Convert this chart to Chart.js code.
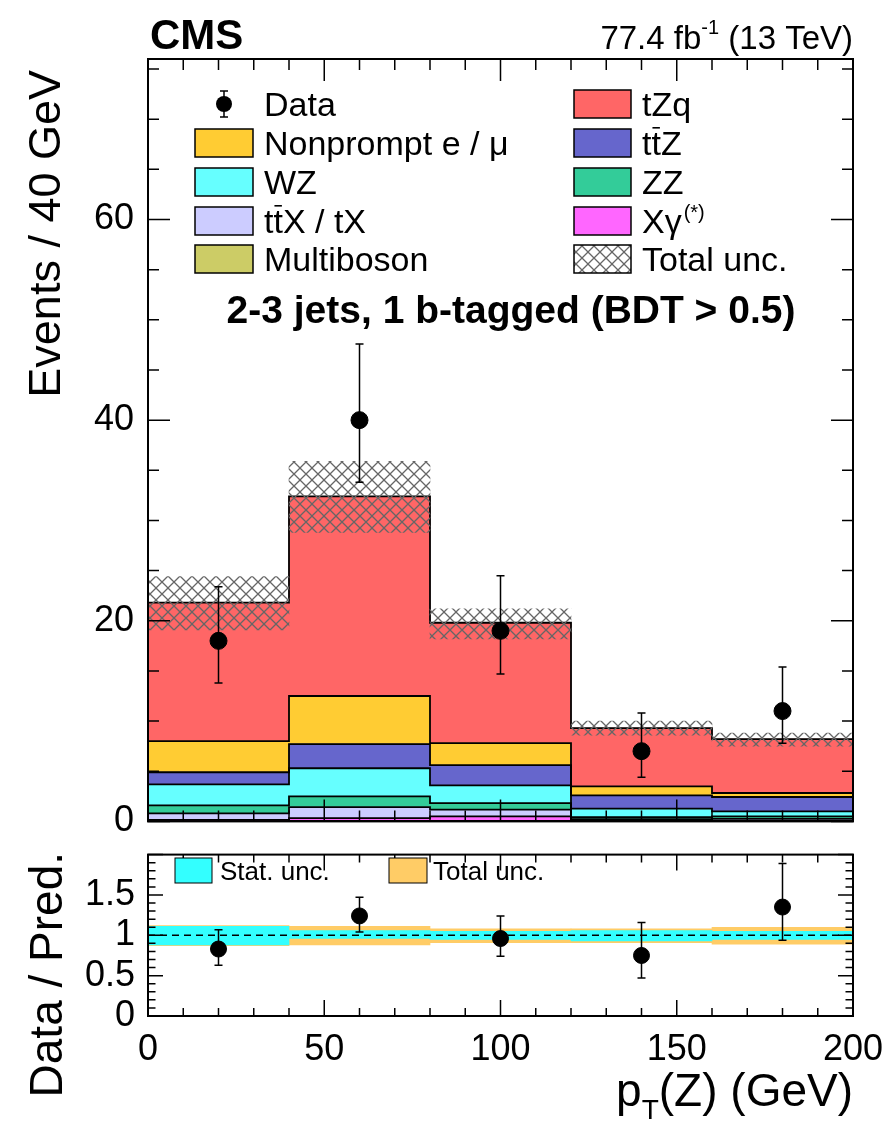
<!DOCTYPE html>
<html>
<head>
<meta charset="utf-8">
<script src="https://cdn.jsdelivr.net/npm/chart.js@4.4.1/dist/chart.umd.min.js"></script>
<style>
  html, body { margin: 0; padding: 0; background: #fff; }
  #wrap { position: relative; width: 894px; height: 1122px; }
  canvas { position: absolute; left: 0; }
  #mainChart { top: 0; }
  #ratioChart { top: 828px; }
</style>
</head>
<body>
<div id="wrap">
  <canvas id="mainChart" width="894" height="849"></canvas>
  <canvas id="ratioChart" width="894" height="294"></canvas>
</div>
<script>
// bins in pT(Z), GeV
const binEdges = [0, 40, 80, 120, 160, 200];
const binCenters = [20, 60, 100, 140, 180];

// stacked predictions, bottom to top (events / bin)
const multiboson = [0.03, 0.05, 0.05, 0.02, 0.02];
const xGamma     = [0.12, 0.28, 0.45, 0.04, 0.03];
const ttxTx      = [0.65, 1.10, 0.67, 0.16, 0.20];
const zz         = [0.80, 1.07, 0.66, 0.21, 0.25];
const wz         = [2.10, 2.80, 1.77, 0.84, 0.50];
const ttz        = [1.20, 2.40, 2.00, 1.33, 1.43];
const nonprompt  = [3.10, 4.80, 2.20, 0.90, 0.40];
const tzq        = [13.8, 19.9, 12.0, 5.80, 5.37];

// observed data
const dataCounts  = [18, 40, 19, 7, 11];
const dataErrUp   = [5.4, 7.6, 5.5, 3.8, 4.4];
const dataErrDown = [4.2, 6.2, 4.3, 2.6, 3.2];

// total uncertainty band on the prediction
const uncLow  = [19.1, 28.8, 18.2, 8.6, 7.5];
const uncHigh = [24.4, 35.9, 21.2, 10.0, 8.8];

// ratio panel
const ratioVals    = [0.83, 1.24, 0.96, 0.75, 1.35];
const ratioErrUp   = [0.24, 0.23, 0.28, 0.41, 0.54];
const ratioErrDown = [0.20, 0.20, 0.22, 0.28, 0.41];
const statLow  = [0.88, 0.96, 0.95, 0.93, 0.95];
const statHigh = [1.11, 1.06, 1.05, 1.06, 1.05];
const totLow   = [0.87, 0.88, 0.91, 0.91, 0.89];
const totHigh  = [1.12, 1.11, 1.08, 1.08, 1.10];

const FONT = '"Liberation Sans", Arial, Helvetica, sans-serif';
Chart.defaults.font.family = FONT;
Chart.defaults.color = '#000';

const colors = {
  tzq: '#ff6666', nonprompt: '#ffcc33', ttz: '#6666cc', wz: '#66ffff',
  zz: '#33cc99', ttx: '#ccccff', xgamma: '#ff66ff', multiboson: '#cccc66'
};

function makeHatch() {
  const c = document.createElement('canvas');
  c.width = 12; c.height = 12;
  const g = c.getContext('2d');
  g.strokeStyle = '#666';
  g.lineWidth = 1.3;
  g.beginPath();
  g.moveTo(0, 0); g.lineTo(12, 12);
  g.moveTo(12, 0); g.lineTo(0, 12);
  g.moveTo(-6, 6); g.lineTo(6, 18);
  g.moveTo(6, -6); g.lineTo(18, 6);
  g.stroke();
  return document.getElementById('mainChart').getContext('2d').createPattern(c, 'repeat');
}
const hatch = makeHatch();

const pts = arr => binCenters.map((x, i) => ({ x, y: arr[i] }));
const rangePts = (lo, hi) => binCenters.map((x, i) => ({ x, y: [lo[i], hi[i]] }));
const fullBin = { barPercentage: 1, categoryPercentage: 1, grouped: false, borderWidth: 0 };

// stacked histogram layers
const layers = [
  { label: 'Multiboson', values: multiboson, color: colors.multiboson },
  { label: 'Xγ', values: xGamma, color: colors.xgamma },
  { label: 'ttX / tX', values: ttxTx, color: colors.ttx },
  { label: 'ZZ', values: zz, color: colors.zz },
  { label: 'WZ', values: wz, color: colors.wz },
  { label: 'ttZ', values: ttz, color: colors.ttz },
  { label: 'Nonprompt', values: nonprompt, color: colors.nonprompt },
  { label: 'tZq', values: tzq, color: colors.tzq }
];

const mainDatasets = [];
let cum = binCenters.map(() => 0);
layers.forEach(l => {
  mainDatasets.push({
    type: 'bar', label: l.label, data: pts(l.values), backgroundColor: l.color,
    stack: 'mc', yAxisID: 'y', order: 3, ...fullBin
  });
  cum = cum.map((c, i) => c + l.values[i]);
  const top = cum.slice();
  // step outline of the layer top
  mainDatasets.push({
    type: 'line', label: l.label + ' outline',
    data: binEdges.map((x, j) => ({ x, y: top[Math.min(j, top.length - 1)] })),
    stepped: 'before', borderColor: '#000', borderWidth: 1.8, pointRadius: 0,
    fill: false, yAxisID: 'yl', order: 2
  });
});
mainDatasets.push({
  type: 'bar', label: 'Total unc.', data: rangePts(uncLow, uncHigh),
  backgroundColor: hatch, yAxisID: 'yl', order: 1, ...fullBin
});
mainDatasets.push({
  type: 'line', label: 'Data', data: pts(dataCounts), showLine: false,
  pointRadius: 8.5, pointBackgroundColor: '#000', pointBorderColor: '#000',
  yAxisID: 'yl', order: 0
});

// vertical error bars with small caps
const errorBars = {
  id: 'errorBars',
  afterDatasetsDraw(chart, args, o) {
    const { ctx } = chart;
    const xs = chart.scales.x, ys = chart.scales[o.yAxis];
    ctx.save();
    ctx.strokeStyle = '#000';
    ctx.lineWidth = 1.5;
    ctx.beginPath();
    o.values.forEach((v, i) => {
      const px = xs.getPixelForValue(binCenters[i]);
      const t = ys.getPixelForValue(v + o.up[i]);
      const b = ys.getPixelForValue(v - o.down[i]);
      ctx.moveTo(px, t); ctx.lineTo(px, b);
      ctx.moveTo(px - 4, t); ctx.lineTo(px + 4, t);
      ctx.moveTo(px - 4, b); ctx.lineTo(px + 4, b);
    });
    ctx.stroke();
    ctx.restore();
  }
};

// ROOT style frame with inward ticks on all four sides
const rootAxes = {
  id: 'rootAxes',
  afterDatasetsDraw(chart, args, o) {
    const { ctx, chartArea: a } = chart;
    const xs = chart.scales.x, ys = chart.scales.y;
    ctx.save();
    ctx.strokeStyle = '#000';
    ctx.lineWidth = 1.5;
    ctx.beginPath();
    let n = Math.round((xs.max - xs.min) / o.xMinor);
    for (let i = 0; i <= n; i++) {
      const v = xs.min + i * o.xMinor;
      const px = xs.getPixelForValue(v);
      const len = (i % Math.round(o.xMajor / o.xMinor) === 0) ? o.xLen : o.xLen / 2;
      ctx.moveTo(px, a.bottom); ctx.lineTo(px, a.bottom - len);
      ctx.moveTo(px, a.top); ctx.lineTo(px, a.top + len);
    }
    n = Math.round((ys.max - ys.min) / o.yMinor);
    for (let i = 0; i <= n; i++) {
      const v = ys.min + i * o.yMinor;
      const py = ys.getPixelForValue(v);
      const len = (i % Math.round(o.yMajor / o.yMinor) === 0) ? o.yLen : o.yLen / 2;
      ctx.moveTo(a.left, py); ctx.lineTo(a.left + len, py);
      ctx.moveTo(a.right, py); ctx.lineTo(a.right - len, py);
    }
    ctx.stroke();
    ctx.lineWidth = 2;
    ctx.strokeRect(a.left, a.top, a.right - a.left, a.bottom - a.top);
    ctx.restore();
  }
};

// text with optional overline / superscript pieces
function drawRich(ctx, x, y, parts, size) {
  let cx = x;
  parts.forEach(p => {
    if (p.sup) {
      ctx.font = `${Math.round(size * 0.6)}px ${FONT}`;
      ctx.fillText(p.t, cx + 2, y - size * 0.42);
      cx += ctx.measureText(p.t).width + 2;
    } else {
      ctx.font = `${size}px ${FONT}`;
      ctx.fillText(p.t, cx, y);
      const w = ctx.measureText(p.t).width;
      if (p.over) {
        ctx.save();
        ctx.lineWidth = 1.6;
        ctx.beginPath();
        ctx.moveTo(cx + 1, y - size * 0.8);
        ctx.lineTo(cx + w - 1, y - size * 0.8);
        ctx.stroke();
        ctx.restore();
      }
      cx += w;
    }
  });
  return cx - x;
}

const legendLeft = [
  { kind: 'data', parts: [{ t: 'Data' }] },
  { fill: colors.nonprompt, parts: [{ t: 'Nonprompt e / μ' }] },
  { fill: colors.wz, parts: [{ t: 'WZ' }] },
  { fill: colors.ttx, parts: [{ t: 't' }, { t: 't', over: true }, { t: 'X / tX' }] },
  { fill: colors.multiboson, parts: [{ t: 'Multiboson' }] }
];
const legendRight = [
  { fill: colors.tzq, parts: [{ t: 'tZq' }] },
  { fill: colors.ttz, parts: [{ t: 't' }, { t: 't', over: true }, { t: 'Z' }] },
  { fill: colors.zz, parts: [{ t: 'ZZ' }] },
  { fill: colors.xgamma, parts: [{ t: 'Xγ' }, { t: '(*)', sup: true }] },
  { fill: 'hatch', parts: [{ t: 'Total unc.' }] }
];

const mainText = {
  id: 'mainText',
  afterDraw(chart) {
    const { ctx } = chart;
    ctx.save();
    ctx.fillStyle = '#000';
    ctx.strokeStyle = '#000';
    ctx.textBaseline = 'alphabetic';
    ctx.textAlign = 'left';

    ctx.font = `bold 42px ${FONT}`;
    ctx.fillText('CMS', 150, 49);

    // luminosity label, right aligned
    const big = 33, small = 20;
    ctx.font = `${big}px ${FONT}`;
    const w1 = ctx.measureText('77.4 fb').width;
    const w3 = ctx.measureText(' (13 TeV)').width;
    ctx.font = `${small}px ${FONT}`;
    const w2 = ctx.measureText('-1').width;
    let x0 = 853 - (w1 + w2 + w3);
    ctx.font = `${big}px ${FONT}`;
    ctx.fillText('77.4 fb', x0, 49);
    ctx.font = `${small}px ${FONT}`;
    ctx.fillText('-1', x0 + w1, 34);
    ctx.font = `${big}px ${FONT}`;
    ctx.fillText(' (13 TeV)', x0 + w1 + w2, 49);

    // legend
    const rows = [104, 143, 182, 221, 259];
    const drawEntry = (e, boxX, boxW, textX, yc) => {
      if (e.kind === 'data') {
        ctx.beginPath();
        ctx.lineWidth = 1.5;
        ctx.moveTo(224, yc - 13); ctx.lineTo(224, yc + 13);
        ctx.moveTo(220, yc - 13); ctx.lineTo(228, yc - 13);
        ctx.moveTo(220, yc + 13); ctx.lineTo(228, yc + 13);
        ctx.stroke();
        ctx.beginPath();
        ctx.arc(224, yc, 8, 0, Math.PI * 2);
        ctx.fill();
      } else {
        ctx.fillStyle = e.fill === 'hatch' ? hatch : e.fill;
        ctx.fillRect(boxX, yc - 14, boxW, 28);
        ctx.fillStyle = '#000';
        ctx.lineWidth = 1.5;
        ctx.strokeRect(boxX, yc - 14, boxW, 28);
      }
      drawRich(ctx, textX, yc + 12, e.parts, 34);
    };
    legendLeft.forEach((e, i) => drawEntry(e, 195, 58, 264, rows[i]));
    legendRight.forEach((e, i) => drawEntry(e, 574, 57, 642, rows[i]));

    // category banner
    ctx.font = `bold 39px ${FONT}`;
    ctx.textAlign = 'center';
    ctx.fillText('2-3 jets, 1 b-tagged (BDT > 0.5)', 511, 323);

    // y title
    ctx.save();
    ctx.translate(60, 70);
    ctx.rotate(-Math.PI / 2);
    ctx.textAlign = 'right';
    ctx.font = `45px ${FONT}`;
    ctx.fillText('Events / 40 GeV', 0, 0);
    ctx.restore();
    ctx.restore();
  }
};

new Chart(document.getElementById('mainChart'), {
  type: 'bar',
  data: { datasets: mainDatasets },
  options: {
    responsive: false,
    animation: false,
    devicePixelRatio: 1,
    layout: { padding: { top: 59, right: 41, bottom: 24, left: 0 } },
    scales: {
      x: {
        type: 'linear', min: 0, max: 200, offset: false, display: false,
        grid: { offset: false }, ticks: { stepSize: 50 }
      },
      y: {
        stacked: true, min: 0, max: 76,
        grid: { display: false }, border: { display: false },
        ticks: { stepSize: 20, includeBounds: false, autoSkip: false, padding: 6, font: { size: 36 } },
        afterFit: s => { s.width = 148; }
      },
      yl: { min: 0, max: 76, display: false }
    },
    plugins: {
      legend: { display: false },
      tooltip: { enabled: false },
      errorBars: { yAxis: 'yl', values: dataCounts, up: dataErrUp, down: dataErrDown },
      rootAxes: { xMajor: 50, xMinor: 10, xLen: 22, yMajor: 20, yMinor: 5, yLen: 22 }
    }
  },
  plugins: [errorBars, rootAxes, mainText]
});

// ratio panel (canvas starts at y = 828 on the page)
const ratioText = {
  id: 'ratioText',
  afterDraw(chart) {
    const { ctx } = chart;
    const top = 828;
    ctx.save();
    ctx.fillStyle = '#000';
    ctx.strokeStyle = '#000';
    ctx.textBaseline = 'alphabetic';

    // legend of the bands
    ctx.lineWidth = 1;
    ctx.fillStyle = '#33ffff';
    ctx.fillRect(175, 858 - top, 37, 25);
    ctx.strokeRect(175, 858 - top, 37, 25);
    ctx.fillStyle = '#ffcc66';
    ctx.fillRect(389, 858 - top, 38, 25);
    ctx.strokeRect(389, 858 - top, 38, 25);
    ctx.fillStyle = '#000';
    ctx.font = `26px ${FONT}`;
    ctx.textAlign = 'left';
    ctx.fillText('Stat. unc.', 220, 880 - top);
    ctx.fillText('Total unc.', 433, 880 - top);

    // y title
    ctx.save();
    ctx.translate(62, 852 - top);
    ctx.rotate(-Math.PI / 2);
    ctx.textAlign = 'right';
    ctx.font = `46px ${FONT}`;
    ctx.fillText('Data / Pred.', 0, 0);
    ctx.restore();

    // x title p_T(Z) (GeV), right aligned
    const base = 1106 - top;
    ctx.font = `46px ${FONT}`;
    const wp = ctx.measureText('p').width;
    const wr = ctx.measureText('(Z) (GeV)').width;
    ctx.font = `28px ${FONT}`;
    const wt = ctx.measureText('T').width;
    let x0 = 853 - (wp + wt + wr);
    ctx.font = `46px ${FONT}`;
    ctx.fillText('p', x0, base);
    ctx.font = `28px ${FONT}`;
    ctx.fillText('T', x0 + wp, base + 13);
    ctx.font = `46px ${FONT}`;
    ctx.fillText('(Z) (GeV)', x0 + wp + wt, base);
    ctx.restore();
  }
};

new Chart(document.getElementById('ratioChart'), {
  type: 'bar',
  data: {
    datasets: [
      { type: 'bar', label: 'Total unc.', data: rangePts(totLow, totHigh), backgroundColor: '#ffcc66',
        order: 3, ...fullBin },
      { type: 'bar', label: 'Stat. unc.', data: rangePts(statLow, statHigh), backgroundColor: '#33ffff',
        order: 2, ...fullBin },
      { type: 'line', label: 'unity', data: [{ x: 0, y: 1 }, { x: 200, y: 1 }], borderColor: '#000',
        borderWidth: 1.5, borderDash: [7, 5], pointRadius: 0, fill: false, order: 1 },
      { type: 'line', label: 'Data', data: pts(ratioVals), showLine: false, pointRadius: 8,
        pointBackgroundColor: '#000', pointBorderColor: '#000', order: 0 }
    ]
  },
  options: {
    responsive: false,
    animation: false,
    devicePixelRatio: 1,
    layout: { padding: { top: 22, right: 41, bottom: 0, left: 0 } },
    scales: {
      x: {
        type: 'linear', min: 0, max: 200, offset: false,
        grid: { display: false, offset: false }, border: { display: false },
        ticks: { stepSize: 50, padding: 4, maxRotation: 0, autoSkip: false, font: { size: 36 } },
        afterFit: s => { s.height = 106; }
      },
      y: {
        min: 0, max: 2,
        grid: { display: false }, border: { display: false },
        ticks: { stepSize: 0.5, padding: 5, autoSkip: false, font: { size: 36 }, callback: v => `${v}` },
        afterBuildTicks: s => { s.ticks = s.ticks.filter(t => t.value < 2); },
        afterFit: s => { s.width = 148; }
      }
    },
    plugins: {
      legend: { display: false },
      tooltip: { enabled: false },
      errorBars: { yAxis: 'y', values: ratioVals, up: ratioErrUp, down: ratioErrDown },
      rootAxes: { xMajor: 50, xMinor: 10, xLen: 16, yMajor: 0.5, yMinor: 0.1, yLen: 15 }
    }
  },
  plugins: [errorBars, rootAxes, ratioText]
});
</script>
</body>
</html>
